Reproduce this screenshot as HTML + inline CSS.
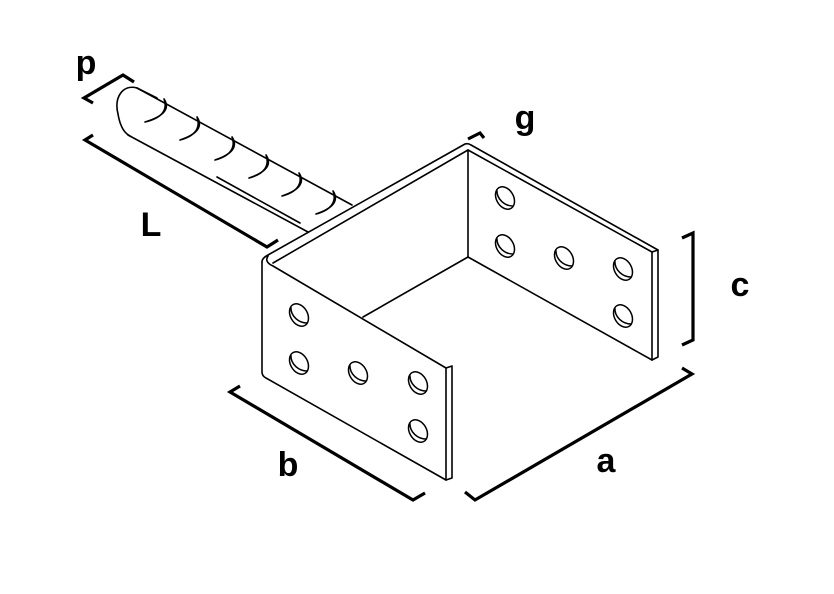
<!DOCTYPE html>
<html><head><style>html,body{margin:0;padding:0;background:#fff}svg{display:block}</style></head>
<body>
<svg width="834" height="594" viewBox="0 0 834 594" xmlns="http://www.w3.org/2000/svg">
<g fill="none" stroke="#000" stroke-width="1.6" stroke-linejoin="round" stroke-linecap="round">
<!-- rod -->
<path d="M137,88 L352,205"/>
<path d="M128,135 L308,232"/>
<path d="M217,177 L300,223"/>
<path d="M137,88 C122,84 114,98 118,114 C120,126 124,133 130,136"/>
<path d="M137,88 L157,98"/>
<path d="M164,99 C170,108 165,116 145,122 M164,99 C168,110 162,118 145,122"/>
<path d="M197,117 C203,126 198,134 180,140 M197,117 C201,128 195,136 180,140"/>
<path d="M232,137 C238,146 233,154 215,160 M232,137 C236,148 230,156 215,160"/>
<path d="M266,155 C272,164 267,172 249,178 M266,155 C270,166 264,174 249,178"/>
<path d="M299,173 C305,182 300,190 282,196 M299,173 C303,184 297,192 282,196"/>
<path d="M333,191 C339,200 334,208 316,214 M333,191 C337,202 331,210 316,214"/>
<!-- top edges -->
<path d="M262,262 Q262,258 268,255 L465,144 Q468,143 471,145"/>
<path d="M273,263 L468,150"/>
<path d="M262,262 L262,372 Q262,376 266,378 L446,480"/>
<path d="M268,256 Q264,262 273,266 L446,368 L446,480"/>
<path d="M446,368 L452,366 L452,478 L446,480"/>
<!-- back plate -->
<path d="M468,150 L468,257"/>
<path d="M471,145 L658,250 L658,357 L652,360"/>
<path d="M468,150 L652,252 L652,360"/>
<path d="M652,252 L658,250"/>
<path d="M468,257 L652,360"/>
<path d="M468,257 L363,317"/>
</g>
<g fill="none" stroke="#000" stroke-width="1.5">
<g transform="translate(299,315) rotate(-30)"><ellipse rx="8.5" ry="12"/><path d="M-3,-11 C-8,-3 -4,7 3,11"/></g>
<g transform="translate(299,363) rotate(-30)"><ellipse rx="8.5" ry="12"/><path d="M-3,-11 C-8,-3 -4,7 3,11"/></g>
<g transform="translate(358,373) rotate(-30)"><ellipse rx="8.5" ry="12"/><path d="M-3,-11 C-8,-3 -4,7 3,11"/></g>
<g transform="translate(418,383) rotate(-30)"><ellipse rx="8.5" ry="12"/><path d="M-3,-11 C-8,-3 -4,7 3,11"/></g>
<g transform="translate(418,431) rotate(-30)"><ellipse rx="8.5" ry="12"/><path d="M-3,-11 C-8,-3 -4,7 3,11"/></g>
<g transform="translate(505,198) rotate(-30)"><ellipse rx="8.5" ry="12"/><path d="M-3,-11 C-8,-3 -4,7 3,11"/></g>
<g transform="translate(505,246) rotate(-30)"><ellipse rx="8.5" ry="12"/><path d="M-3,-11 C-8,-3 -4,7 3,11"/></g>
<g transform="translate(564,258) rotate(-30)"><ellipse rx="8.5" ry="12"/><path d="M-3,-11 C-8,-3 -4,7 3,11"/></g>
<g transform="translate(623,269) rotate(-30)"><ellipse rx="8.5" ry="12"/><path d="M-3,-11 C-8,-3 -4,7 3,11"/></g>
<g transform="translate(623,316) rotate(-30)"><ellipse rx="8.5" ry="12"/><path d="M-3,-11 C-8,-3 -4,7 3,11"/></g>
</g>
<!-- dimension brackets -->
<g fill="none" stroke="#000" stroke-width="3.2" stroke-linejoin="miter">
<polyline points="93,103 84,98 123,75 134,82"/>
<polyline points="93,135 85,140 267,247 278,240"/>
<polyline points="468,139 480,133 484,138"/>
<polyline points="240,386 230,392 413,500 425,493"/>
<polyline points="465,492 475,500 692,374 682,368"/>
<polyline points="682,238 693,233 693,340 682,345"/>
</g>
<g font-family="Liberation Sans, sans-serif" font-weight="bold" font-size="34" text-anchor="middle" fill="#000">
<text x="86" y="74">p</text>
<text x="151" y="236">L</text>
<text x="525" y="129">g</text>
<text x="740" y="296">c</text>
<text x="288" y="476">b</text>
<text x="606" y="472">a</text>
</g>
</svg>
</body></html>
